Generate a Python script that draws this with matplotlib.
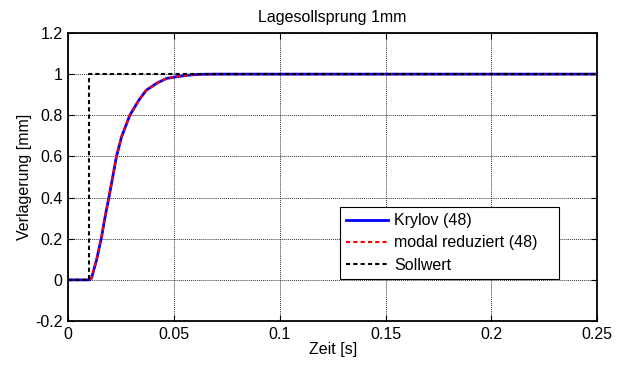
import matplotlib
matplotlib.use("Agg")
import matplotlib.pyplot as plt

plt.rcParams['font.family'] = ['Liberation Sans', 'DejaVu Sans']

# Data
t = [0.0, 0.010, 0.0111, 0.0135, 0.0159, 0.0174, 0.0195, 0.0213, 0.0229, 0.0253,
     0.0292, 0.0335, 0.037, 0.0418, 0.0465, 0.0512, 0.056, 0.062, 0.07, 0.1, 0.15, 0.2, 0.25]
y_krylov = [0.0, 0.0, 0.008, 0.097, 0.21, 0.30, 0.41, 0.51, 0.60, 0.695,
            0.80, 0.874, 0.922, 0.955, 0.979, 0.987, 0.994, 0.999, 1.0, 1.0, 1.0, 1.0, 1.0]
y_modal = list(y_krylov)
t_soll = [0.0, 0.01, 0.01, 0.25]
y_soll = [0.0, 0.0, 1.0, 1.0]

xticks = [0, 0.05, 0.1, 0.15, 0.2, 0.25]
xticklabels = ['0', '0.05', '0.1', '0.15', '0.2', '0.25']
yticks = [-0.2, 0, 0.2, 0.4, 0.6, 0.8, 1.0, 1.2]
yticklabels = ['-0.2', '0', '0.2', '0.4', '0.6', '0.8', '1', '1.2']

FS = 11.5

fig = plt.figure(figsize=(6.22, 3.69), dpi=100)
ax = fig.add_axes([0.1093, 0.130, 0.851, 0.7806])

ax.plot(t, y_krylov, color='#0000ff', lw=2.0, label='Krylov (48)', zorder=3)
ax.plot(t, y_modal, color='#ff0000', lw=1.5, ls=(0, (2, 1.5)), label='modal reduziert (48)', zorder=4)
ax.plot(t_soll, y_soll, color='black', lw=1.5, ls=(0, (2, 1.5)), label='Sollwert', zorder=5)

ax.set_xlim(0, 0.25)
ax.set_ylim(-0.2, 1.2)
ax.set_xticks(xticks)
ax.set_xticklabels(xticklabels)
ax.set_yticks(yticks)
ax.set_yticklabels(yticklabels)
ax.tick_params(direction='in', top=True, right=True, labelsize=FS, length=4, pad=4)
ax.grid(True, color='#333333', ls=(0, (1, 1)), lw=0.7)
for s in ax.spines.values():
    s.set_linewidth(1.3)

ax.set_xlabel('Zeit [s]', fontsize=FS, labelpad=0)
ax.set_ylabel('Verlagerung [mm]', fontsize=FS, labelpad=2)
ax.set_title('Lagesollsprung 1mm', fontsize=FS, pad=8)

leg = ax.legend(loc='lower left', bbox_to_anchor=(0.514, 0.146, 0.414, 0.253), mode='expand',
                fontsize=FS, fancybox=False, framealpha=1, edgecolor='black',
                borderpad=0.4, labelspacing=0.45, handlelength=2.6, handletextpad=0.4, borderaxespad=0)
leg.get_frame().set_linewidth(0.8)

fig.savefig('out.png', dpi=100)
